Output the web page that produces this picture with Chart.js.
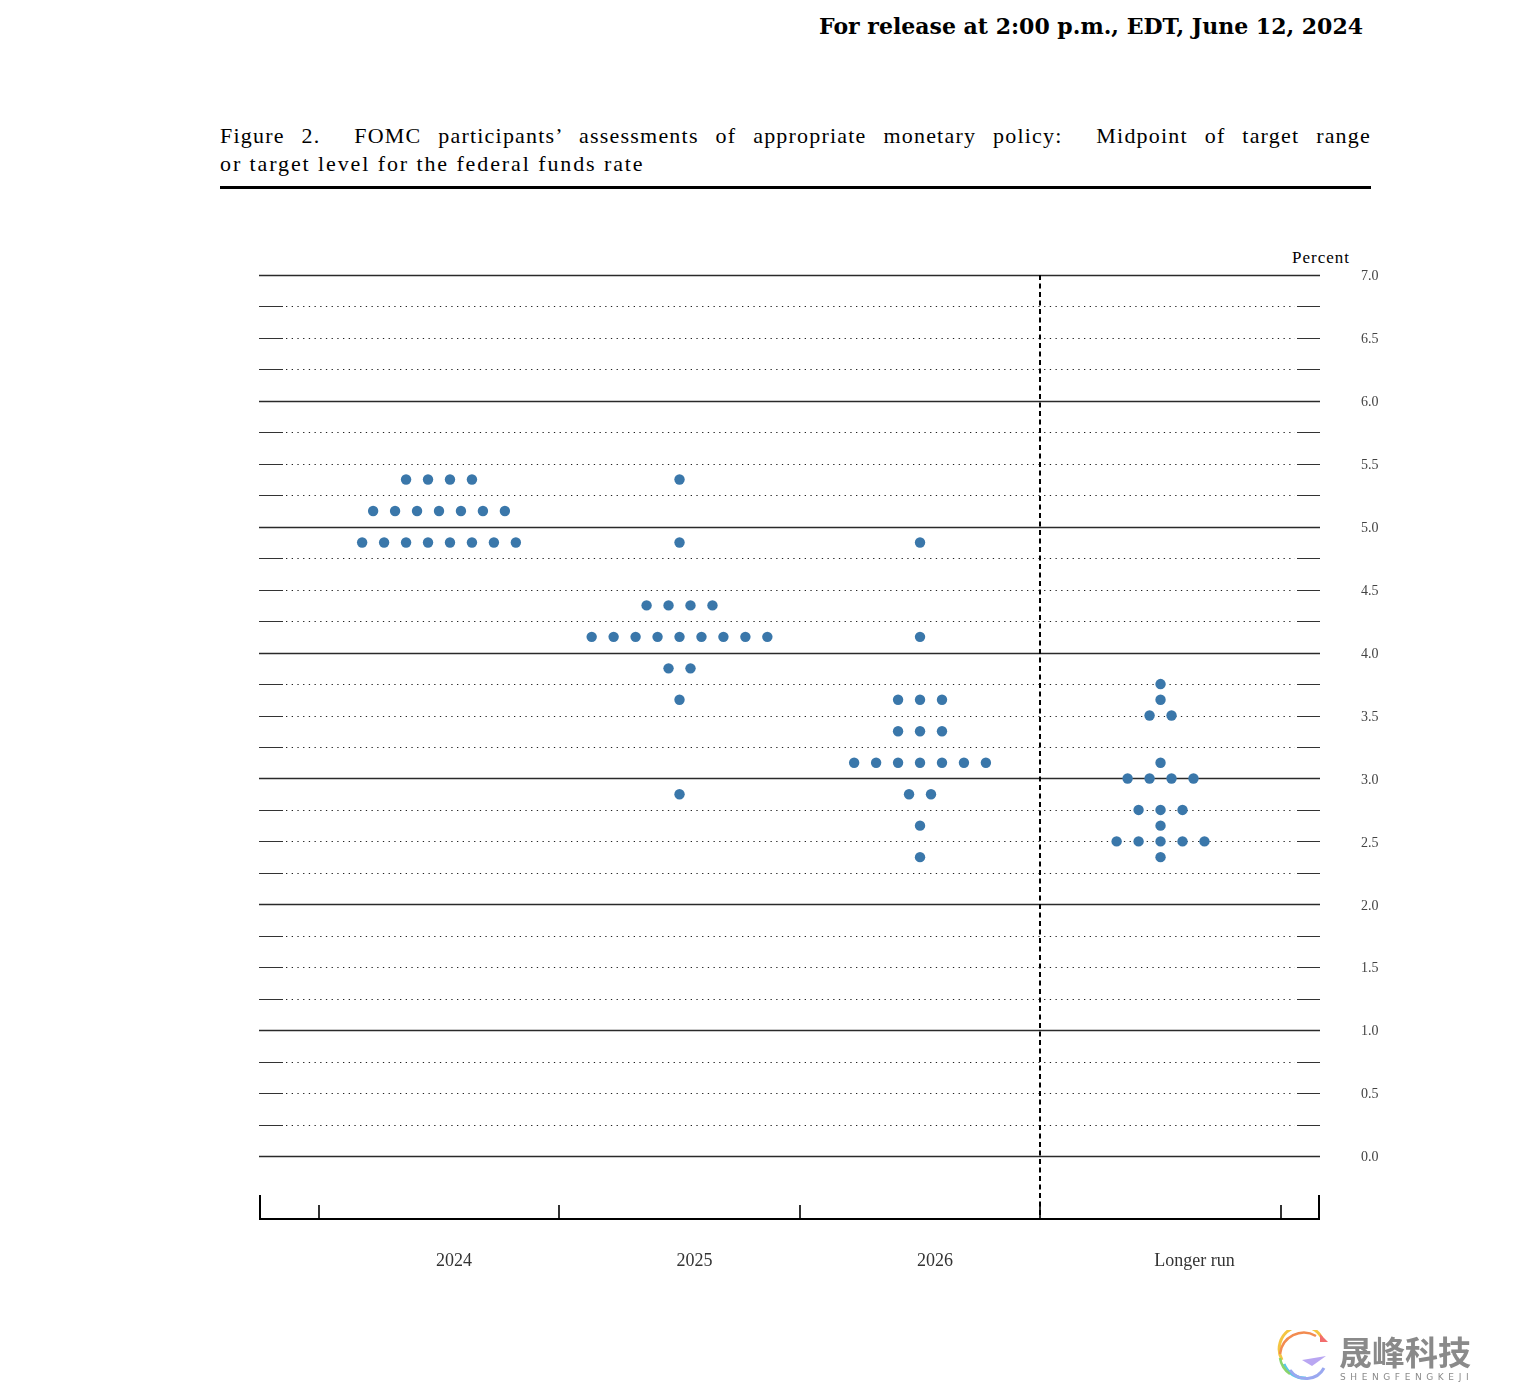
<!DOCTYPE html>
<html>
<head>
<meta charset="utf-8">
<script src="https://cdn.jsdelivr.net/npm/chart.js@4.4.0/dist/chart.umd.min.js"></script>
<style>
  body { margin: 0; background: #fff; width: 1528px; height: 1382px; position: relative; overflow: hidden; }
  #release { position: absolute; right: 165px; top: 13px; font: bold 22px "DejaVu Serif", serif; color: #000; white-space: nowrap; }
  #caption { position: absolute; left: 220px; top: 122px; width: 1151px; font: 22px "Liberation Serif", serif; line-height: 28px; color: #000; letter-spacing: 1.9px; }
  #caption .l1 { text-align: justify; text-align-last: justify; white-space: nowrap; letter-spacing: 1.2px; }
  #rule { position: absolute; left: 220px; top: 186px; width: 1151px; height: 3px; background: #000; }
  #percent { position: absolute; left: 1292px; top: 248px; font: 17px "Liberation Serif", serif; color: #000; letter-spacing: 1px; }
  canvas { position: absolute; left: 0; top: 0; }
  #wm-cn { position: absolute; left: 1339px; top: 1327px; font: bold 33px "Noto Sans CJK SC", sans-serif; color: #8a8a8a; letter-spacing: 0px; }
  #wm-en { position: absolute; left: 1340px; top: 1372px; font: 9px "DejaVu Sans", sans-serif; color: #8a8a8a; letter-spacing: 4.6px; }
  #wm-logo { position: absolute; left: 1276px; top: 1330px; }
</style>
</head>
<body>
<div id="release">For release at 2:00 p.m., EDT, June 12, 2024</div>
<div id="caption">
  <div class="l1">Figure 2.&nbsp; FOMC participants’ assessments of appropriate monetary policy:&nbsp; Midpoint of target range</div>
  <div>or target level for the federal funds rate</div>
</div>
<div id="rule"></div>
<div id="percent">Percent</div>
<canvas id="dotChart" width="1528" height="1382"></canvas>

<svg id="wm-logo" width="58" height="52" viewBox="0 0 58 52">
  <path d="M46 8 A22 22 0 0 0 6 30" fill="none" stroke="#f4c542" stroke-width="3"/>
  <path d="M40 6 A24 24 0 0 0 4 24" fill="none" stroke="#f28b50" stroke-width="2.5"/>
  <path d="M8 34 A22 22 0 0 0 30 48" fill="none" stroke="#5ac8e8" stroke-width="3"/>
  <path d="M4 28 A24 24 0 0 0 14 44" fill="none" stroke="#8ad46b" stroke-width="2.5"/>
  <path d="M14 40 A20 20 0 0 0 48 38" fill="none" stroke="#9aa8f0" stroke-width="3"/>
  <path d="M26 30 L50 26 L36 36 Z" fill="#b9a6f2"/>
  <path d="M44 4 L52 12 L44 12 Z" fill="#f26d6d"/>
</svg>
<div id="wm-cn">晟峰科技</div>
<div id="wm-en">SHENGFENGKEJI</div>

<script>
// Projection groups: rate midpoint and number of participants at that level
const years = ['2024', '2025', '2026', 'Longer run'];

const rates2024 = [5.375, 5.125, 4.875];
const counts2024 = [4, 7, 8];

const rates2025 = [5.375, 4.875, 4.375, 4.125, 3.875, 3.625, 2.875];
const counts2025 = [1, 1, 4, 9, 2, 1, 1];

const rates2026 = [4.875, 4.125, 3.625, 3.375, 3.125, 2.875, 2.625, 2.375];
const counts2026 = [1, 1, 3, 3, 7, 2, 1, 1];

const ratesLonger = [3.75, 3.625, 3.5, 3.125, 3.0, 2.75, 2.625, 2.5, 2.375];
const countsLonger = [1, 1, 2, 1, 4, 3, 1, 5, 1];

const yTickLabels = ['0.0', '0.5', '1.0', '1.5', '2.0', '2.5', '3.0', '3.5', '4.0', '4.5', '5.0', '5.5', '6.0', '6.5', '7.0'];

const dotColor = '#3a77aa';
const dotGap = 0.0913; // horizontal spacing between dots in a row (x units)

// spread each row of dots around the category center
const buildDots = (col, rates, counts) => {
  const pts = [];
  rates.forEach((r, i) => {
    const n = counts[i];
    for (let k = 0; k < n; k++) {
      pts.push({ x: col + (k - (n - 1) / 2) * dotGap, y: r });
    }
  });
  return pts;
};

const allRates = [rates2024, rates2025, rates2026, ratesLonger];
const allCounts = [counts2024, counts2025, counts2026, countsLonger];

const datasets = years.map((yr, i) => ({
  label: yr,
  data: buildDots(i, allRates[i], allCounts[i]),
  backgroundColor: dotColor,
  borderWidth: 0,
  pointRadius: 5.2,
  pointHoverRadius: 5.2,
}));

// grid, axis and labels drawn off the scales
const figurePlugin = {
  id: 'figure',
  beforeDatasetsDraw(chart) {
    const { ctx, chartArea, scales: { x, y } } = chart;
    const L = chartArea.left, R = chartArea.right;
    ctx.save();

    // horizontal grid every quarter point
    for (let q = 0; q <= 28; q++) {
      const v = q / 4;
      const py = Math.round(y.getPixelForValue(v)) + 0.5;
      if (q % 4 === 0) {
        ctx.setLineDash([]);
        ctx.strokeStyle = '#2a2a2a';
        ctx.lineWidth = 1.3;
        ctx.beginPath(); ctx.moveTo(L, py); ctx.lineTo(R, py); ctx.stroke();
      } else {
        ctx.setLineDash([]);
        ctx.strokeStyle = '#333';
        ctx.lineWidth = 1;
        ctx.beginPath();
        ctx.moveTo(L, py); ctx.lineTo(L + 24, py);
        ctx.moveTo(R - 23, py); ctx.lineTo(R, py);
        ctx.stroke();
        ctx.setLineDash([1.3, 4.4]);
        ctx.strokeStyle = '#222';
        ctx.beginPath(); ctx.moveTo(L + 27, py); ctx.lineTo(R - 25, py); ctx.stroke();
      }
    }

    // right-side tick labels
    ctx.setLineDash([]);
    ctx.fillStyle = '#444';
    ctx.font = '14px "Liberation Serif", serif';
    ctx.textAlign = 'left';
    ctx.textBaseline = 'middle';
    yTickLabels.forEach((t, i) => {
      ctx.fillText(t, R + 41, y.getPixelForValue(i * 0.5) + 1.5);
    });

    // bottom axis
    const by = chartArea.bottom;
    ctx.strokeStyle = '#000';
    ctx.lineWidth = 2;
    ctx.beginPath();
    ctx.moveTo(L, by); ctx.lineTo(R, by);
    ctx.moveTo(L + 1, by); ctx.lineTo(L + 1, by - 24);
    ctx.moveTo(R - 1, by); ctx.lineTo(R - 1, by - 24);
    ctx.stroke();
    ctx.lineWidth = 1.6;
    ctx.beginPath();
    [-0.5, 0.5, 1.5, 2.5, 3.5].forEach(v => {
      const px = Math.round(x.getPixelForValue(v));
      ctx.moveTo(px, by); ctx.lineTo(px, by - 14);
    });
    ctx.stroke();

    // separator between dated years and longer run
    const sx = Math.round(x.getPixelForValue(2.5));
    ctx.lineWidth = 2;
    ctx.setLineDash([5, 3.5]);
    ctx.beginPath(); ctx.moveTo(sx, y.getPixelForValue(7)); ctx.lineTo(sx, by); ctx.stroke();
    ctx.setLineDash([]);

    // category labels
    ctx.fillStyle = '#333';
    ctx.font = '18px "Liberation Serif", serif';
    ctx.textAlign = 'center';
    const labelShift = [15, 15, 15, 34];
    years.forEach((yr, i) => {
      ctx.fillText(yr, x.getPixelForValue(i) + labelShift[i], by + 42);
    });

    ctx.restore();
  }
};

new Chart(document.getElementById('dotChart'), {
  type: 'scatter',
  data: { datasets },
  options: {
    responsive: false,
    devicePixelRatio: 1,
    animation: false,
    events: [],
    layout: { padding: { left: 259, right: 208, top: 275, bottom: 163 } },
    plugins: { legend: { display: false }, tooltip: { enabled: false } },
    scales: {
      x: { type: 'linear', min: -0.7484, max: 3.663, display: false },
      y: { type: 'linear', min: -0.5, max: 7, display: false },
    },
  },
  plugins: [figurePlugin],
});
</script>
</body>
</html>
